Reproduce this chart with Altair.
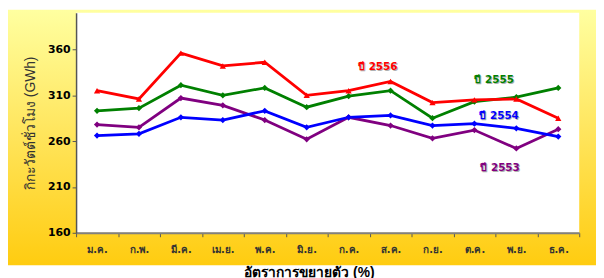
import altair as alt
import pandas as pd

months = ["ม.ค.", "ก.พ.", "มี.ค.", "เม.ย.", "พ.ค.", "มิ.ย.", "ก.ค.", "ส.ค.", "ก.ย.", "ต.ค.", "พ.ย.", "ธ.ค."]
series_names = ["ปี 2553", "ปี 2554", "ปี 2555", "ปี 2556"]
y2553 = [278, 275, 307, 299, 283, 262, 286, 277, 263, 272, 252, 273]
y2554 = [266, 268, 286, 283, 293, 275, 286, 288, 277, 279, 274, 265]
y2555 = [293, 296, 321, 310, 318, 297, 309, 315, 285, 303, 308, 318]
y2556 = [315, 306, 356, 342, 346, 310, 315, 325, 302, 305, 306, 285]
colors = ["#800080", "#0000FF", "#008000", "#FF0000"]
shapes = ["diamond", "diamond", "diamond", "triangle-up"]

label_month = ["ต.ค.", "ต.ค.", "ต.ค.", "ส.ค."]
label_value = [231, 287, 327, 341]
label_dx = [26, 25, 20, -13]

rows = []
for name, vals in zip(series_names, [y2553, y2554, y2555, y2556]):
    for m, v in zip(months, vals):
        rows.append({"month": m, "value": v, "series": name})
df = pd.DataFrame(rows)

W, H = 510, 223

color_scale = alt.Scale(domain=series_names, range=colors)
x_enc = alt.X("month:N", sort=months,
              scale=alt.Scale(paddingInner=0, paddingOuter=0),
              axis=alt.Axis(title="อัตราการขยายตัว (%)", labelAngle=0, tickBand="extent",
                            labelFont="DejaVu Sans", labelFontSize=10, labelFontWeight="bold",
                            labelColor="#333333", labelPadding=8, tickSize=4, tickColor="#555555",
                            domainColor="#808080", domainWidth=2, titleFontSize=14,
                            titleFontWeight="bold", titleColor="#000000", titlePadding=11,
                            titleX=236, titleAlign="center", zindex=1))
y_enc = alt.Y("value:Q", scale=alt.Scale(domain=[160, 400], nice=False, zero=False),
              axis=alt.Axis(title="กิกะวัตต์ชั่วโมง (GWh)", values=[160, 210, 260, 310, 360],
                            grid=False, labelFont="DejaVu Sans", labelFontSize=11,
                            labelFontWeight="bold", labelColor="#000000", tickSize=4,
                            tickColor="#555555", domainColor="#555555", domainWidth=1.5,
                            titleFontSize=14, titleFontWeight="normal", titleColor="#333333",
                            titlePadding=10, zindex=1))

one = alt.Data(values=[{"a": 1}])
bg = alt.Chart(one).mark_rect(
    fill=alt.LinearGradient(gradient="linear", x1=0, x2=0, y1=0, y2=1,
                            stops=[alt.GradientStop(color="#FFFFA0", offset=0),
                                   alt.GradientStop(color="#FFE45A", offset=0.5),
                                   alt.GradientStop(color="#FFCC10", offset=1)]),
    clip=False
).encode(x=alt.value(-69), x2=alt.value(527), y=alt.value(-3), y2=alt.value(256))

plotbg = alt.Chart(one).mark_rect(fill="white").encode(
    x=alt.value(0), x2=alt.value(W), y=alt.value(0), y2=alt.value(H))

base = alt.Chart(df)
lines = base.mark_line(strokeWidth=2.8).encode(
    x=x_enc, y=y_enc,
    color=alt.Color("series:N", scale=color_scale, legend=None),
    order=alt.Order("series:N"),
    detail="series:N")
points = base.mark_point(filled=True, opacity=1).encode(
    x=alt.X("month:N", sort=months),
    y="value:Q",
    color=alt.Color("series:N", scale=color_scale, legend=None),
    shape=alt.Shape("series:N", scale=alt.Scale(domain=series_names, range=shapes), legend=None),
    size=alt.Size("series:N", scale=alt.Scale(domain=series_names, range=[40, 40, 40, 70]), legend=None))

lab = pd.DataFrame({"month": label_month, "value": label_value, "series": series_names})
labels_layers = []
for i in range(4):
    d = lab.iloc[[i]]
    shadow = alt.Chart(d).mark_text(font="DejaVu Sans", fontSize=10.5, fontWeight="bold",
                                    color="#B0B0B0", dx=label_dx[i] + 1, dy=1).encode(
        x=alt.X("month:N", sort=months), y="value:Q", text="series:N")
    txt = alt.Chart(d).mark_text(font="DejaVu Sans", fontSize=10.5, fontWeight="bold",
                                 color=colors[i], dx=label_dx[i]).encode(
        x=alt.X("month:N", sort=months), y="value:Q", text="series:N")
    labels_layers += [shadow, txt]

chart = alt.layer(bg, plotbg, lines, points, *labels_layers).properties(
    width=W, height=H,
    autosize=alt.AutoSizeParams(type="none"),
    padding={"left": 69, "top": 3, "right": 17, "bottom": 44},
    background="white"
).configure_view(stroke=None)

chart.save("out.html", embed_options={"renderer": "svg", "actions": False})
